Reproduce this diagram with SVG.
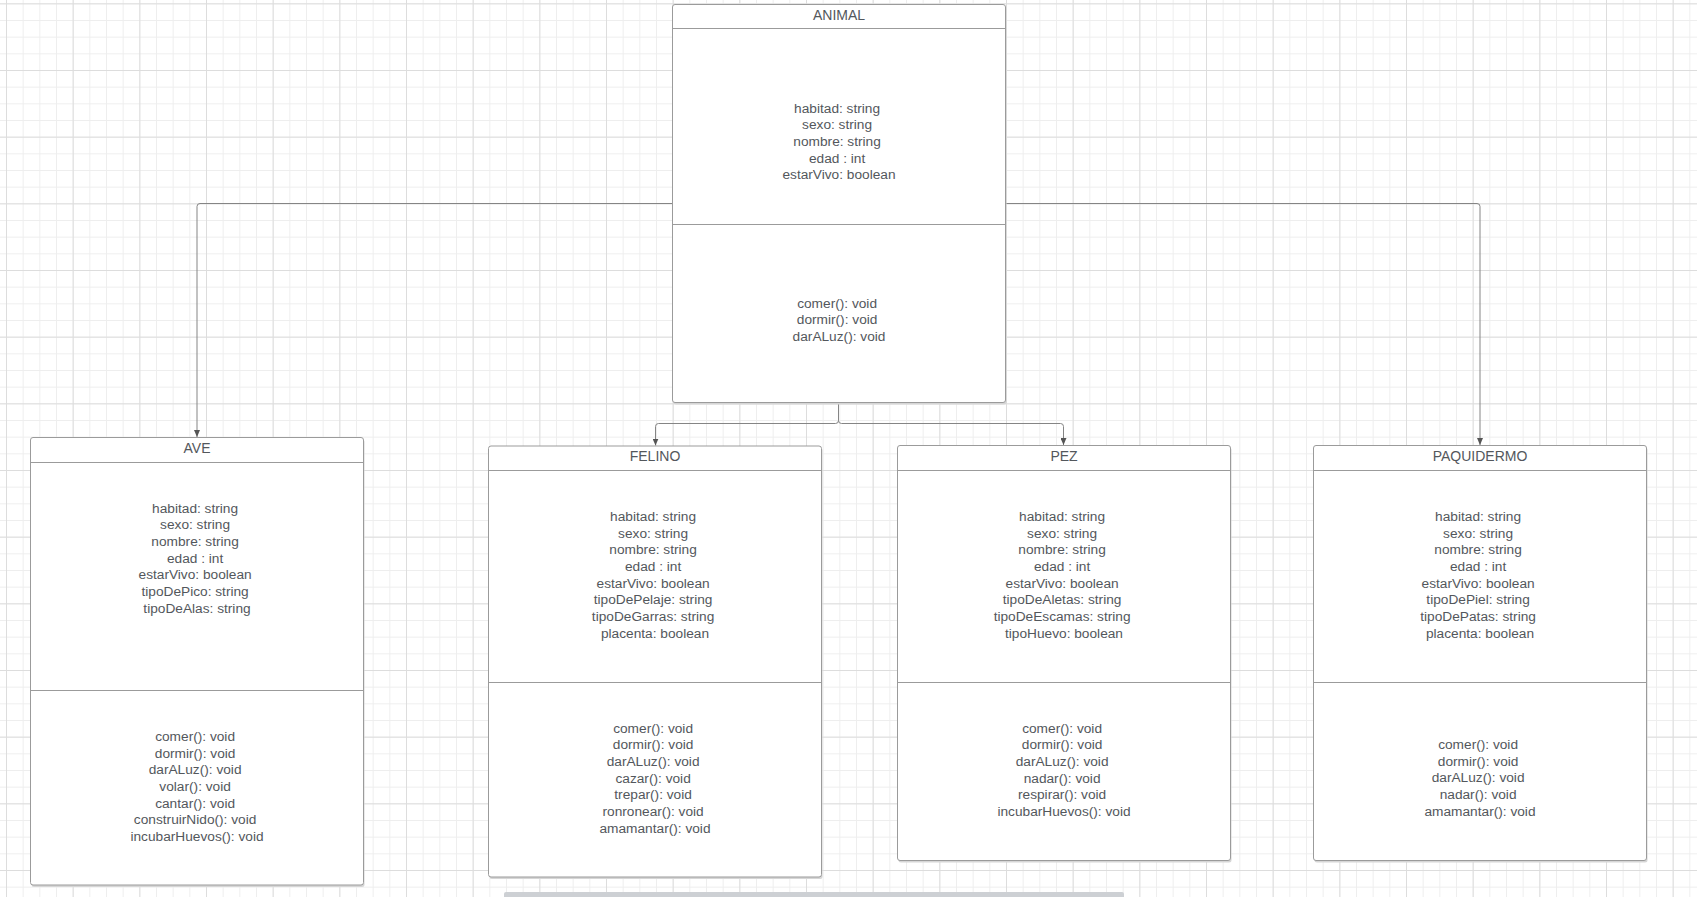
<svg xmlns="http://www.w3.org/2000/svg" width="1697" height="897" viewBox="0 0 1697 897">
  <style>
    .box { fill: #ffffff; stroke: #9b9b9b; stroke-width: 1; }
    .shadow { fill: #d6d6d6; }
    .div { stroke: #9b9b9b; stroke-width: 1; }
    .title { font-family: "Liberation Sans", Arial, sans-serif; font-size: 14px; fill: #53575c; text-anchor: middle; }
    .txt { font-family: "Liberation Sans", Arial, sans-serif; font-size: 13.7px; fill: #53575c; text-anchor: middle; }
    .conn { fill: none; stroke: #858585; stroke-width: 1; }
  </style>
  <defs>
    <pattern id="gridMinor" patternUnits="userSpaceOnUse" x="6" y="3.333" width="16.6667" height="16.6667">
      <path d="M0,0.5 H16.6667 M0.5,0 V16.6667" fill="none" stroke="#eeeeee" stroke-width="1"/>
    </pattern>
    <pattern id="gridMajor" patternUnits="userSpaceOnUse" x="6" y="3.333" width="66.6667" height="66.6667">
      <path d="M0,0.5 H66.6667 M0.5,0 V66.6667" fill="none" stroke="#dddddd" stroke-width="1"/>
    </pattern>
    <marker id="arrow" markerWidth="6" markerHeight="7" refX="3" refY="7" orient="0" markerUnits="userSpaceOnUse">
      <path d="M0,0 L6,0 L3,7 Z" fill="#555555"/>
    </marker>
  </defs>

  <!-- canvas grid -->
  <rect x="0" y="0" width="1697" height="897" fill="#ffffff"/>
  <rect x="0" y="0" width="1697" height="897" fill="url(#gridMinor)"/>
  <rect x="0" y="0" width="1697" height="897" fill="url(#gridMajor)"/>

  <!-- inheritance connectors -->
  <g id="connectors">
    <path class="conn" d="M672.5,203.5 H200 Q197,203.5 197,206.5 V437" marker-end="url(#arrow)"/>
    <path class="conn" d="M1005.5,203.5 H1477 Q1480,203.5 1480,206.5 V445" marker-end="url(#arrow)"/>
    <path class="conn" d="M838.5,402.5 V420.5 Q838.5,423.5 835.5,423.5 H658.5 Q655.5,423.5 655.5,426.5 V445.5" marker-end="url(#arrow)"/>
    <path class="conn" d="M838.5,402.5 V420.5 Q838.5,423.5 841.5,423.5 H1060.5 Q1063.5,423.5 1063.5,426.5 V445" marker-end="url(#arrow)"/>
  </g>

  <!-- ANIMAL -->
  <g id="animal">
    <rect class="shadow" x="673.5" y="6.5" width="333" height="398" rx="2.5"/>
    <rect class="box" x="672.5" y="4.5" width="333" height="398" rx="2.5"/>
    <line class="div" x1="672.5" y1="28.5" x2="1005.5" y2="28.5"/>
    <line class="div" x1="672.5" y1="224.5" x2="1005.5" y2="224.5"/>
    <text class="title" x="839" y="19.8">ANIMAL</text>
    <text class="txt" x="839" y="112.6">
      <tspan x="839">habitad: string</tspan>
      <tspan x="839" dy="16.67">sexo: string</tspan>
      <tspan x="839" dy="16.67">nombre: string</tspan>
      <tspan x="839" dy="16.67">edad : int</tspan>
      <tspan x="839" dy="16.67">estarVivo: boolean</tspan>
    </text>
    <text class="txt" x="839" y="307.6">
      <tspan x="839">comer(): void</tspan>
      <tspan x="839" dy="16.67">dormir(): void</tspan>
      <tspan x="839" dy="16.67">darALuz(): void</tspan>
    </text>
  </g>

  <!-- AVE -->
  <g id="ave">
    <rect class="shadow" x="31.5" y="439.5" width="333" height="447.5" rx="2.5"/>
    <rect class="box" x="30.5" y="437.5" width="333" height="447.5" rx="2.5"/>
    <line class="div" x1="30.5" y1="462.5" x2="363.5" y2="462.5"/>
    <line class="div" x1="30.5" y1="690.5" x2="363.5" y2="690.5"/>
    <text class="title" x="197" y="452.6">AVE</text>
    <text class="txt" x="197" y="512.6">
      <tspan x="197">habitad: string</tspan>
      <tspan x="197" dy="16.67">sexo: string</tspan>
      <tspan x="197" dy="16.67">nombre: string</tspan>
      <tspan x="197" dy="16.67">edad : int</tspan>
      <tspan x="197" dy="16.67">estarVivo: boolean</tspan>
      <tspan x="197" dy="16.67">tipoDePico: string</tspan>
      <tspan x="197" dy="16.67">tipoDeAlas: string</tspan>
    </text>
    <text class="txt" x="197" y="741">
      <tspan x="197">comer(): void</tspan>
      <tspan x="197" dy="16.67">dormir(): void</tspan>
      <tspan x="197" dy="16.67">darALuz(): void</tspan>
      <tspan x="197" dy="16.67">volar(): void</tspan>
      <tspan x="197" dy="16.67">cantar(): void</tspan>
      <tspan x="197" dy="16.67">construirNido(): void</tspan>
      <tspan x="197" dy="16.67">incubarHuevos(): void</tspan>
    </text>
  </g>

  <!-- FELINO -->
  <g id="felino">
    <rect class="shadow" x="489.5" y="448" width="333" height="431" rx="2.5"/>
    <rect class="box" x="488.5" y="446" width="333" height="431" rx="2.5"/>
    <line class="div" x1="488.5" y1="470.5" x2="821.5" y2="470.5"/>
    <line class="div" x1="488.5" y1="682.5" x2="821.5" y2="682.5"/>
    <text class="title" x="655" y="461">FELINO</text>
    <text class="txt" x="655" y="521">
      <tspan x="655">habitad: string</tspan>
      <tspan x="655" dy="16.67">sexo: string</tspan>
      <tspan x="655" dy="16.67">nombre: string</tspan>
      <tspan x="655" dy="16.67">edad : int</tspan>
      <tspan x="655" dy="16.67">estarVivo: boolean</tspan>
      <tspan x="655" dy="16.67">tipoDePelaje: string</tspan>
      <tspan x="655" dy="16.67">tipoDeGarras: string</tspan>
      <tspan x="655" dy="16.67">placenta: boolean</tspan>
    </text>
    <text class="txt" x="655" y="732.6">
      <tspan x="655">comer(): void</tspan>
      <tspan x="655" dy="16.67">dormir(): void</tspan>
      <tspan x="655" dy="16.67">darALuz(): void</tspan>
      <tspan x="655" dy="16.67">cazar(): void</tspan>
      <tspan x="655" dy="16.67">trepar(): void</tspan>
      <tspan x="655" dy="16.67">ronronear(): void</tspan>
      <tspan x="655" dy="16.67">amamantar(): void</tspan>
    </text>
  </g>

  <!-- PEZ -->
  <g id="pez">
    <rect class="shadow" x="898.5" y="447.5" width="333" height="415" rx="2.5"/>
    <rect class="box" x="897.5" y="445.5" width="333" height="415" rx="2.5"/>
    <line class="div" x1="897.5" y1="470.5" x2="1230.5" y2="470.5"/>
    <line class="div" x1="897.5" y1="682.5" x2="1230.5" y2="682.5"/>
    <text class="title" x="1064" y="461">PEZ</text>
    <text class="txt" x="1064" y="521">
      <tspan x="1064">habitad: string</tspan>
      <tspan x="1064" dy="16.67">sexo: string</tspan>
      <tspan x="1064" dy="16.67">nombre: string</tspan>
      <tspan x="1064" dy="16.67">edad : int</tspan>
      <tspan x="1064" dy="16.67">estarVivo: boolean</tspan>
      <tspan x="1064" dy="16.67">tipoDeAletas: string</tspan>
      <tspan x="1064" dy="16.67">tipoDeEscamas: string</tspan>
      <tspan x="1064" dy="16.67">tipoHuevo: boolean</tspan>
    </text>
    <text class="txt" x="1064" y="732.6">
      <tspan x="1064">comer(): void</tspan>
      <tspan x="1064" dy="16.67">dormir(): void</tspan>
      <tspan x="1064" dy="16.67">darALuz(): void</tspan>
      <tspan x="1064" dy="16.67">nadar(): void</tspan>
      <tspan x="1064" dy="16.67">respirar(): void</tspan>
      <tspan x="1064" dy="16.67">incubarHuevos(): void</tspan>
    </text>
  </g>

  <!-- PAQUIDERMO -->
  <g id="paquidermo">
    <rect class="shadow" x="1314.5" y="447.5" width="333" height="415" rx="2.5"/>
    <rect class="box" x="1313.5" y="445.5" width="333" height="415" rx="2.5"/>
    <line class="div" x1="1313.5" y1="470.5" x2="1646.5" y2="470.5"/>
    <line class="div" x1="1313.5" y1="682.5" x2="1646.5" y2="682.5"/>
    <text class="title" x="1480" y="461">PAQUIDERMO</text>
    <text class="txt" x="1480" y="521">
      <tspan x="1480">habitad: string</tspan>
      <tspan x="1480" dy="16.67">sexo: string</tspan>
      <tspan x="1480" dy="16.67">nombre: string</tspan>
      <tspan x="1480" dy="16.67">edad : int</tspan>
      <tspan x="1480" dy="16.67">estarVivo: boolean</tspan>
      <tspan x="1480" dy="16.67">tipoDePiel: string</tspan>
      <tspan x="1480" dy="16.67">tipoDePatas: string</tspan>
      <tspan x="1480" dy="16.67">placenta: boolean</tspan>
    </text>
    <text class="txt" x="1480" y="749">
      <tspan x="1480">comer(): void</tspan>
      <tspan x="1480" dy="16.67">dormir(): void</tspan>
      <tspan x="1480" dy="16.67">darALuz(): void</tspan>
      <tspan x="1480" dy="16.67">nadar(): void</tspan>
      <tspan x="1480" dy="16.67">amamantar(): void</tspan>
    </text>
  </g>

  <!-- horizontal scrollbar thumb -->
  <rect x="504" y="892" width="620" height="8" rx="2" fill="#cdd0d4"/>
</svg>
